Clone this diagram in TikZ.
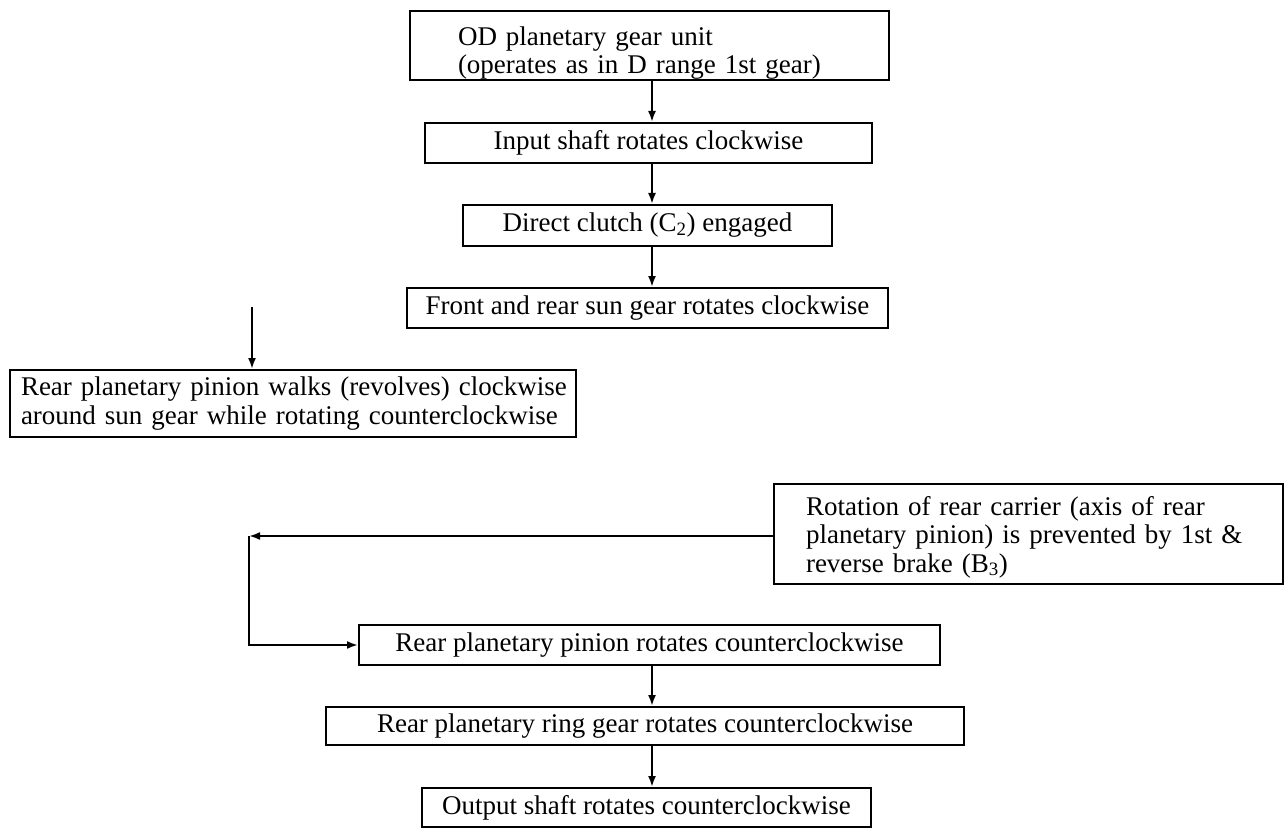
\documentclass[tikz,border=0pt]{standalone}
\usepackage{fontspec}
\setmainfont{Liberation Serif}
\usetikzlibrary{arrows.meta,calc}
\begin{document}
\begin{tikzpicture}[x=1pt,y=-1pt,
  box/.style={draw,line width=2pt,rectangle,inner sep=0pt,align=center,
    font=\fontsize{27}{28.5}\selectfont},
  flow/.style={line width=2pt,-{Latex[length=11pt,width=8pt]}}]
\useasboundingbox (0,0) rectangle (1287,829);

% boxes of the power flow
\node[box,minimum width=479pt,minimum height=69pt,text width=383pt,align=left,
      text height=30pt,text depth=30pt]
  (b1) at (649.5,45.5) {OD planetary gear unit\\(operates as in D range 1st gear)};
\node[box,minimum width=447pt,minimum height=40pt] (b2) at (648.5,143)
  {Input shaft rotates clockwise};
\node[box,minimum width=369pt,minimum height=41pt] (b3) at (647.5,225.5)
  {Direct clutch (C\textsubscript{2}) engaged};
\node[box,minimum width=481pt,minimum height=40pt] (b4) at (647.5,308)
  {Front and rear sun gear rotates clockwise};
\node[box,minimum width=566pt,minimum height=67pt,text width=556pt,align=left]
  (b5) at (293,403.5)
  {\hspace*{6pt}Rear planetary pinion walks (revolves) clockwise\\\hspace*{6pt}around sun gear while rotating counterclockwise};
\node[box,minimum width=509pt,minimum height=100pt,text width=445pt,align=left,
      text height=25pt,text depth=63pt]
  (b6) at (1028.5,534)
  {Rotation of rear carrier (axis of rear\\planetary pinion) is prevented by 1st \&\\reverse brake (B\textsubscript{3})};
\node[box,minimum width=581pt,minimum height=40pt] (b7) at (649.5,645)
  {Rear planetary pinion rotates counterclockwise};
\node[box,minimum width=638pt,minimum height=38pt] (b8) at (645,726)
  {Rear planetary ring gear rotates counterclockwise};
\node[box,minimum width=449pt,minimum height=39pt] (b9) at (646.5,807.5)
  {Output shaft rotates counterclockwise};

% reference points for the connectors
\coordinate (spine) at (652,0);
\coordinate (c45) at (252,307);
\coordinate (j) at (249,536);

% connectors
\draw[flow] (b1.south -| spine) -- (b2.north -| spine);
\draw[flow] (b2.south -| spine) -- (b3.north -| spine);
\draw[flow] (b3.south -| spine) -- (b4.north -| spine);
\draw[flow] (c45) -- (b5.north -| c45);
\draw[flow] (b6.west |- j) -- (j);
\draw[flow] (j) |- (b7.west);
\draw[flow] (b7.south -| spine) -- (b8.north -| spine);
\draw[flow] (b8.south -| spine) -- (b9.north -| spine);
\end{tikzpicture}
\end{document}
